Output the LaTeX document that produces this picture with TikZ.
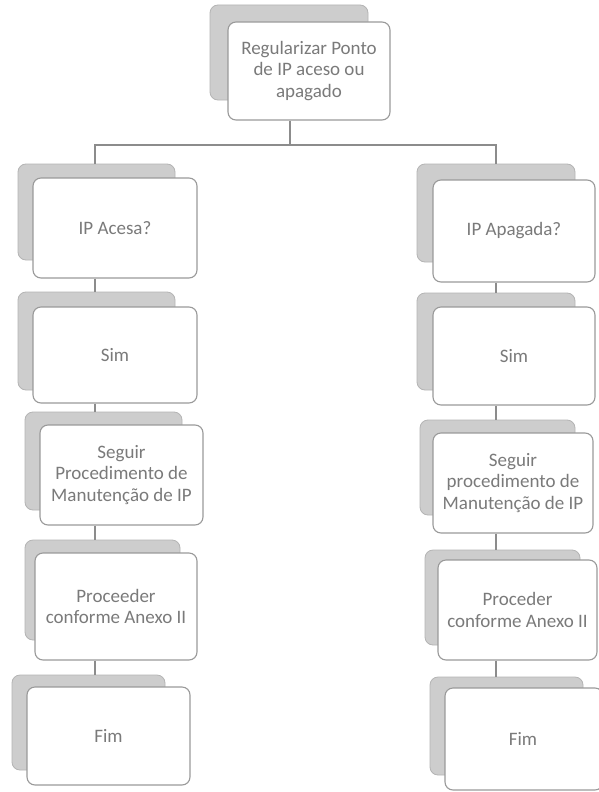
\documentclass[tikz,border=0pt]{standalone}
\usepackage{fontspec}
\setmainfont{Carlito}
\usetikzlibrary{fit}
\definecolor{txtgray}{HTML}{7A7A7A}
\definecolor{backfill}{HTML}{CDCDCD}
\definecolor{backline}{HTML}{B4B4B4}
\definecolor{frontline}{HTML}{9A9A9A}
\definecolor{connline}{HTML}{8C8C8C}
\begin{document}
\begin{tikzpicture}[x=1pt,y=-1pt,
  backbox/.style={draw=backline, fill=backfill, rounded corners=8pt, line width=0.8pt, inner sep=0pt},
  frontbox/.style={draw=frontline, fill=white, rounded corners=8pt, line width=1.1pt, inner sep=0pt},
  conn/.style={draw=connline, line width=1.6pt},
  lbl/.style={align=center, text=txtgray, font=\fontsize{19}{21.5}\selectfont, inner sep=0pt}]
\useasboundingbox (0,0) rectangle (598,792);
\fill[white] (0,0) rectangle (598,792);

% column axes for the connectors
\coordinate (hub) at (290,145);
\coordinate (colL) at (95,0);
\coordinate (colR) at (496,0);

% back boxes
\node[backbox, fit={(210,5) (368,100)}] (Tb) {};
\node[backbox, fit={(18,164) (175,260)}] (L1b) {};
\node[backbox, fit={(18,292) (175,390)}] (L2b) {};
\node[backbox, fit={(25,412) (182,510)}] (L3b) {};
\node[backbox, fit={(25,540) (180,640)}] (L4b) {};
\node[backbox, fit={(12,675) (165,770)}] (L5b) {};
\node[backbox, fit={(417,164) (575,262)}] (R1b) {};
\node[backbox, fit={(417,293) (575,390)}] (R2b) {};
\node[backbox, fit={(420,420) (575,515)}] (R3b) {};
\node[backbox, fit={(425,550) (580,645)}] (R4b) {};
\node[backbox, fit={(430,677) (583,775)}] (R5b) {};

% front boxes
\node[frontbox, fit={(228,22) (390,120)}] (Tf) {};
\node[frontbox, fit={(33,178) (197,278)}] (L1f) {};
\node[frontbox, fit={(33,307) (197,403)}] (L2f) {};
\node[frontbox, fit={(40,425) (203,525)}] (L3f) {};
\node[frontbox, fit={(35,553) (197,660)}] (L4f) {};
\node[frontbox, fit={(27,687) (190,785)}] (L5f) {};
\node[frontbox, fit={(433,180) (595,282)}] (R1f) {};
\node[frontbox, fit={(433,307) (595,405)}] (R2f) {};
\node[frontbox, fit={(433,433) (593,533)}] (R3f) {};
\node[frontbox, fit={(438,560) (597,660)}] (R4f) {};
\node[frontbox, fit={(445,688) (603,790)}] (R5f) {};

% connectors
\draw[conn] (Tf.south -| hub) -- (hub);
\draw[conn] (L1b.north -| colL) |- (hub) -| (R1b.north -| colR);
\draw[conn] (L1f.south -| colL) -- (L2b.north -| colL);
\draw[conn] (L2f.south -| colL) -- (L3b.north -| colL);
\draw[conn] (L3f.south -| colL) -- (L4b.north -| colL);
\draw[conn] (L4f.south -| colL) -- (L5b.north -| colL);
\draw[conn] (R1f.south -| colR) -- (R2b.north -| colR);
\draw[conn] (R2f.south -| colR) -- (R3b.north -| colR);
\draw[conn] (R3f.south -| colR) -- (R4b.north -| colR);
\draw[conn] (R4f.south -| colR) -- (R5b.north -| colR);

% texts
\node[lbl] (Tt) at (Tf.center) {Regularizar Ponto\\de IP aceso ou\\apagado};
\node[lbl] (L1t) at (L1f.center) {IP Acesa?};
\node[lbl] (L2t) at (L2f.center) {Sim};
\node[lbl] (L3t) at (L3f.center) {Seguir\\Procedimento de\\Manutenção de IP};
\node[lbl] (L4t) at (L4f.center) {Proceeder\\conforme Anexo II};
\node[lbl] (L5t) at (L5f.center) {Fim};
\node[lbl] (R1t) at (R1f.center) {IP Apagada?};
\node[lbl] (R2t) at (R2f.center) {Sim};
\node[lbl] (R3t) at (R3f.center) {Seguir\\procedimento de\\Manutenção de IP};
\node[lbl] (R4t) at (R4f.center) {Proceder\\conforme Anexo II};
\node[lbl] (R5t) at ([xshift=-1pt]R5f.center) {Fim};
\end{tikzpicture}
\end{document}
